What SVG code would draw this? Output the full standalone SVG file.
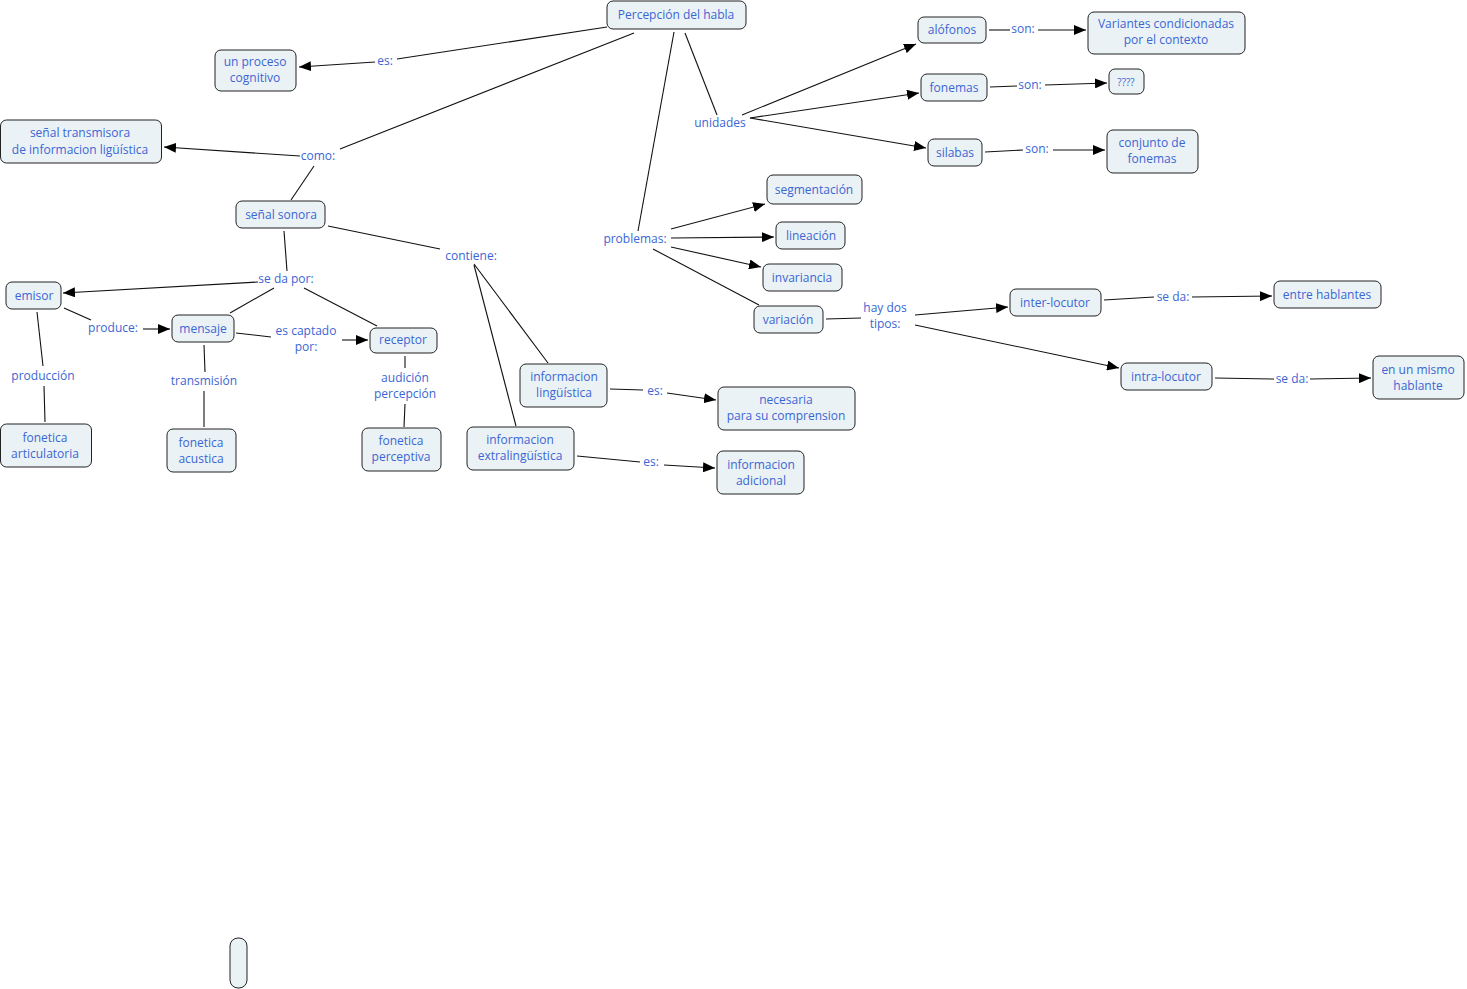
<svg xmlns="http://www.w3.org/2000/svg" width="1467" height="989" viewBox="0 0 1467 989">
<style>
.n rect{fill:#ebf2f5;stroke:#222;stroke-width:1}
text{font-family:"Open Sans","Liberation Sans",sans-serif;font-size:12px;fill:#3a66d4;text-anchor:middle}
.c line{stroke:#111;stroke-width:1.1}
.a{marker-end:url(#ah)}
</style>
<defs>
<marker id="ah" viewBox="0 0 12 10" refX="12" refY="5" markerWidth="12" markerHeight="10" markerUnits="userSpaceOnUse" orient="auto">
<path d="M0,0 L12,5 L0,10 z" fill="#000"/>
</marker>
</defs>
<rect width="1467" height="989" fill="#fff"/>
<g class="c">
<line x1="607" y1="27" x2="397" y2="59"/>
<line class="a" x1="375" y1="62" x2="299" y2="67"/>
<line x1="634" y1="33" x2="340" y2="149"/>
<line class="a" x1="300" y1="156" x2="164" y2="147"/>
<line x1="314" y1="166" x2="291" y2="200"/>
<line x1="685" y1="33" x2="717" y2="115"/>
<line class="a" x1="742" y1="115" x2="916" y2="44"/>
<line class="a" x1="750" y1="118" x2="919" y2="93"/>
<line class="a" x1="750" y1="118" x2="926" y2="148"/>
<line x1="674" y1="32" x2="638" y2="231"/>
<line class="a" x1="671" y1="229" x2="765" y2="204"/>
<line class="a" x1="671" y1="238" x2="774" y2="237"/>
<line class="a" x1="671" y1="247" x2="761" y2="267"/>
<line x1="653" y1="249" x2="759" y2="305"/>
<line x1="826" y1="319" x2="861" y2="318"/>
<line class="a" x1="915" y1="315" x2="1008" y2="307"/>
<line class="a" x1="915" y1="325" x2="1119" y2="368"/>
<line x1="1104" y1="300" x2="1154" y2="297"/>
<line class="a" x1="1192" y1="297" x2="1272" y2="296"/>
<line x1="1215" y1="378" x2="1274" y2="379"/>
<line class="a" x1="1310" y1="379" x2="1371" y2="378"/>
<line x1="989" y1="30" x2="1010" y2="30"/>
<line class="a" x1="1038" y1="30" x2="1086" y2="30"/>
<line x1="990" y1="87" x2="1017" y2="86"/>
<line class="a" x1="1045" y1="85" x2="1107" y2="83"/>
<line x1="985" y1="152" x2="1023" y2="150"/>
<line class="a" x1="1053" y1="150" x2="1105" y2="150"/>
<line x1="284" y1="231" x2="287" y2="271"/>
<line class="a" x1="258" y1="282" x2="63" y2="293"/>
<line x1="274" y1="288" x2="230" y2="313"/>
<line x1="304" y1="288" x2="377" y2="326"/>
<line x1="328" y1="226" x2="440" y2="249"/>
<line x1="474" y1="264" x2="548" y2="363"/>
<line x1="474" y1="265" x2="516" y2="426"/>
<line x1="64" y1="308" x2="91" y2="320"/>
<line class="a" x1="143" y1="329" x2="170" y2="329"/>
<line x1="236" y1="333" x2="271" y2="337"/>
<line class="a" x1="342" y1="340" x2="368" y2="340"/>
<line x1="37" y1="312" x2="43" y2="366"/>
<line x1="44" y1="386" x2="45" y2="422"/>
<line x1="204" y1="345" x2="205" y2="372"/>
<line x1="204" y1="391" x2="204" y2="427"/>
<line x1="405" y1="356" x2="405" y2="368"/>
<line x1="405" y1="404" x2="404" y2="427"/>
<line x1="610" y1="389" x2="643" y2="390"/>
<line class="a" x1="667" y1="393" x2="716" y2="400"/>
<line x1="577" y1="456" x2="640" y2="462"/>
<line class="a" x1="664" y1="465" x2="715" y2="468"/>
</g>
<g id="lp">
<text x="385" y="65">es:</text>
<text x="318" y="160">como:</text>
<text x="286" y="283">se da por:</text>
<text x="471" y="260">contiene:</text>
<text x="113" y="332">produce:</text>
<text x="306" y="335">es captado</text>
<text x="306" y="351">por:</text>
<text x="43" y="380">producción</text>
<text x="204" y="385">transmisión</text>
<text x="405" y="382">audición</text>
<text x="405" y="398">percepción</text>
<text x="720" y="127">unidades</text>
<text x="635" y="243">problemas:</text>
<text x="1023" y="33">son:</text>
<text x="1030" y="89">son:</text>
<text x="1037" y="153">son:</text>
<text x="655" y="395">es:</text>
<text x="651" y="466">es:</text>
<text x="885" y="312">hay dos</text>
<text x="885" y="328">tipos:</text>
<text x="1173" y="301">se da:</text>
<text x="1292" y="383">se da:</text>
</g>
<g id="n1" class="n"><rect x="607" y="1" width="139" height="28" rx="6"/><text x="676" y="19">Percepción del habla</text></g>
<g id="n2" class="n"><rect x="215" y="50" width="81" height="41" rx="6"/><text x="255" y="66">un proceso</text><text x="255" y="82">cognitivo</text></g>
<g id="n3" class="n"><rect x="0.5" y="120" width="161" height="43" rx="6"/><text x="80" y="137">señal transmisora</text><text x="80" y="154">de informacion ligüística</text></g>
<g id="n4" class="n"><rect x="236" y="201" width="89" height="27" rx="6"/><text x="281" y="219">señal sonora</text></g>
<g id="n5" class="n"><rect x="6" y="282" width="55" height="27" rx="6"/><text x="34" y="300">emisor</text></g>
<g id="n6" class="n"><rect x="172" y="315" width="62" height="27" rx="6"/><text x="203" y="333">mensaje</text></g>
<g id="n7" class="n"><rect x="370" y="328" width="67" height="25" rx="6"/><text x="403" y="344">receptor</text></g>
<g id="n8" class="n"><rect x="0.5" y="424" width="91" height="43" rx="6"/><text x="45" y="442">fonetica</text><text x="45" y="458">articulatoria</text></g>
<g id="n9" class="n"><rect x="167" y="429" width="69" height="43" rx="6"/><text x="201" y="447">fonetica</text><text x="201" y="463">acustica</text></g>
<g id="n10" class="n"><rect x="362" y="428" width="79" height="43" rx="6"/><text x="401" y="445">fonetica</text><text x="401" y="461">perceptiva</text></g>
<g id="n11" class="n"><rect x="520" y="364" width="87" height="43" rx="6"/><text x="564" y="381">informacion</text><text x="564" y="397">lingüística</text></g>
<g id="n12" class="n"><rect x="467" y="427" width="107" height="43" rx="6"/><text x="520" y="444">informacion</text><text x="520" y="460">extralingüística</text></g>
<g id="n13" class="n"><rect x="718" y="387" width="137" height="43" rx="6"/><text x="786" y="404">necesaria</text><text x="786" y="420">para su comprension</text></g>
<g id="n14" class="n"><rect x="717" y="451" width="87" height="43" rx="6"/><text x="761" y="469">informacion</text><text x="761" y="485">adicional</text></g>
<g id="n15" class="n"><rect x="767" y="175" width="95" height="29" rx="6"/><text x="814" y="194">segmentación</text></g>
<g id="n16" class="n"><rect x="776" y="222" width="69" height="27" rx="6"/><text x="811" y="240">lineación</text></g>
<g id="n17" class="n"><rect x="763" y="264" width="79" height="27" rx="6"/><text x="802" y="282">invariancia</text></g>
<g id="n18" class="n"><rect x="754" y="306" width="69" height="27" rx="6"/><text x="788" y="324">variación</text></g>
<g id="n19" class="n"><rect x="918" y="17" width="68" height="26" rx="6"/><text x="952" y="34">alófonos</text></g>
<g id="n20" class="n"><rect x="921" y="74" width="66" height="27" rx="6"/><text x="954" y="92">fonemas</text></g>
<g id="n21" class="n"><rect x="928" y="139" width="54" height="27" rx="6"/><text x="955" y="157">silabas</text></g>
<g id="n22" class="n"><rect x="1088" y="12" width="157" height="42" rx="6"/><text x="1166" y="28">Variantes condicionadas</text><text x="1166" y="44">por el contexto</text></g>
<g id="n23" class="n"><rect x="1109" y="69" width="35" height="25" rx="6"/><text x="1126" y="86" style="font-size:10px">????</text></g>
<g id="n24" class="n"><rect x="1107" y="130" width="91" height="43" rx="6"/><text x="1152" y="147">conjunto de</text><text x="1152" y="163">fonemas</text></g>
<g id="n25" class="n"><rect x="1010" y="289" width="91" height="27" rx="6"/><text x="1055" y="307">inter-locutor</text></g>
<g id="n26" class="n"><rect x="1121" y="363" width="91" height="27" rx="6"/><text x="1166" y="381">intra-locutor</text></g>
<g id="n27" class="n"><rect x="1274" y="281" width="107" height="27" rx="6"/><text x="1327" y="299">entre hablantes</text></g>
<g id="n28" class="n"><rect x="1373" y="356" width="91" height="43" rx="6"/><text x="1418" y="374">en un mismo</text><text x="1418" y="390">hablante</text></g>
<g id="n29" class="n"><rect x="230" y="938" width="17" height="50" rx="8"/></g>
</svg>
